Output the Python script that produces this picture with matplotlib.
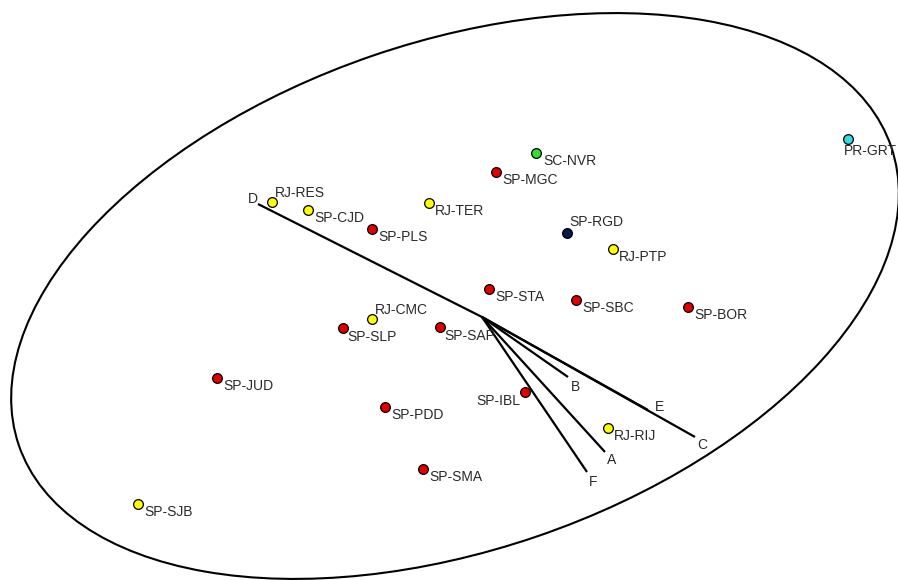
import numpy as np
import matplotlib
matplotlib.use("Agg")
import matplotlib.pyplot as plt
from matplotlib.patches import Ellipse

plt.rcParams['font.family'] = ['Liberation Sans', 'DejaVu Sans']

# site scores (biplot units)
sites = ['SC-NVR', 'SP-MGC', 'PR-GRT', 'RJ-RES', 'SP-CJD', 'SP-PLS', 'RJ-TER',
         'SP-RGD', 'RJ-PTP', 'SP-STA', 'SP-SBC', 'SP-BOR', 'RJ-CMC', 'SP-SLP',
         'SP-SAP', 'SP-JUD', 'SP-PDD', 'SP-IBL', 'RJ-RIJ', 'SP-SMA', 'SP-SJB']
sx = [0.54, 0.14, 3.66, -2.10, -1.74, -1.10, -0.53, 0.85, 1.31, 0.07, 0.94,
      2.06, -1.10, -1.39, -0.42, -2.65, -0.97, 0.43, 1.26, -0.59, -3.44]
sy = [1.64, 1.45, 1.78, 1.15, 1.07, 0.88, 1.14, 0.84, 0.68, 0.28, 0.17,
      0.10, -0.02, -0.11, -0.10, -0.61, -0.90, -0.75, -1.11, -1.52, -1.87]
group = ['SC', 'SP', 'PR', 'RJ', 'RJ', 'SP', 'RJ', 'SPd', 'RJ', 'SP', 'SP',
         'SP', 'RJ', 'SP', 'SP', 'SP', 'SP', 'SP', 'RJ', 'SP', 'RJ']

# variable loadings
vars_ = ['A', 'B', 'C', 'D', 'E', 'F']
vx = [1.23, 0.86, 2.13, -2.24, 1.66, 1.05]
vy = [-1.35, -0.60, -1.20, 1.13, -0.93, -1.55]

# confidence ellipse
ell_c = (-0.27, 0.21)
ell_w, ell_h, ell_ang = 9.22, 5.08, 18.9

colors = {'SP': '#e00000', 'RJ': '#ffff00', 'SC': '#33dd33',
          'PR': '#33dddd', 'SPd': '#0a1650'}

# label offsets in pixels (default lower right)
lab_off = {'RJ-RES': (3, 9), 'RJ-CMC': (3, 9), 'SP-RGD': (2, 11),
           'SC-NVR': (7, -8), 'PR-GRT': (-4, -12), 'SP-SLP': (4, -9),
           'SP-SAP': (4, -9), 'SP-IBL': (-5, -9)}
var_off = {'A': (7, -8), 'B': (7, -10), 'C': (7, -8), 'D': (-5, 5),
           'E': (12, 3), 'F': (6, -10)}

fig = plt.figure(figsize=(8.98, 5.8), dpi=100)
ax = fig.add_axes([0, 0, 1, 1])
ax.set_xlim(-4.82, 4.16)
ax.set_ylim(-2.63, 3.17)
ax.set_aspect('equal')
ax.axis('off')

ax.add_patch(Ellipse(ell_c, ell_w, ell_h, angle=ell_ang, fill=False,
                     ec='black', lw=1.5, zorder=1))

for name, x, y in zip(vars_, vx, vy):
    ax.plot([0, x], [0, y], color='black', lw=1.6, zorder=2,
            solid_capstyle='butt')
    ax.annotate(name, (x, y), xytext=var_off[name], textcoords='offset pixels',
                ha='center', va='center', fontsize=10, color='#2a2a2a')

for name, x, y, g in zip(sites, sx, sy, group):
    ax.plot(x, y, 'o', ms=7, mfc=colors[g], mec='black', mew=0.9, zorder=3)
    off = lab_off.get(name, (6, -8))
    ha = 'right' if name == 'SP-IBL' else 'left'
    ax.annotate(name, (x, y), xytext=off, textcoords='offset pixels',
                ha=ha, va='center', fontsize=10, color='#2a2a2a')

fig.savefig('out.png', dpi=100)
